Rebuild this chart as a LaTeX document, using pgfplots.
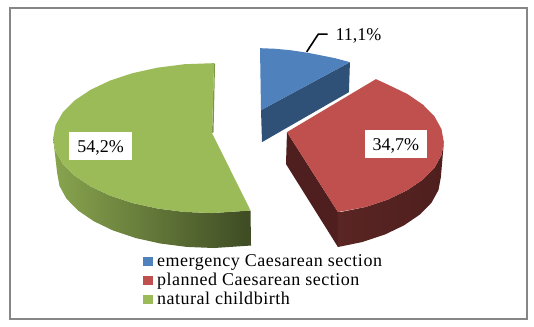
\documentclass[border=0pt]{standalone}
\usepackage{fontspec}
\setmainfont{Liberation Serif}
\newfontfamily\legfont[LetterSpace=2.9]{Liberation Serif}
\usepackage{pgfplots}
\pgfplotsset{compat=1.18}
\definecolor{frameg}{HTML}{868686}
\definecolor{bluetop}{HTML}{4F81BD}
\definecolor{blueside}{HTML}{2F5178}
\definecolor{redtop}{HTML}{C0504D}
\definecolor{redside}{HTML}{4E1F1E}
\definecolor{redsidel}{HTML}{5A2523}
\definecolor{greentop}{HTML}{9BBB59}
\tikzset{lab/.style={inner sep=0pt, text height=12bp, text depth=0pt, font=\fontsize{18bp}{20bp}\selectfont}}
\begin{document}
\begin{tikzpicture}
\begin{axis}[
  at={(0,0)}, anchor=south west,
  scale only axis, width=534bp, height=326bp,
  xmin=0, xmax=534, ymin=0, ymax=326, y dir=reverse,
  hide axis, clip=false,
  every axis plot/.append style={forget plot, no markers},
  legend image code/.code={\fill[draw=none,#1] (0bp,0.7bp) rectangle (10bp,10bp);},
  legend cell align=left,
  legend style={at={(axis cs:143,253.7)}, anchor=north west, draw=none, fill=none,
    font=\fontsize{18bp}{18bp}\selectfont\legfont, inner sep=0pt, outer sep=0pt,
    row sep=1bp, column sep=4bp,
    nodes={inner sep=0pt, outer sep=0pt, anchor=base west, text height=13bp, text depth=5bp}},
]
% page background and frame
\addplot[draw=white, fill=white] coordinates {(0,0)(534,0)(534,326)(0,326)} --cycle;
\addplot[draw=frameg, line width=2bp] coordinates {(10,8)(527,8)(527,319)(10,319)} --cycle;

% green side
\addplot[draw=none, left color=greentop!88!black, middle color=greentop!72!black, right color=greentop!40!black] coordinates {
(53,138)(55.4,151)(62.6,163.7)(74.3,175.5)(90.2,186.2)(109.8,195.5)(132.5,203)(157.6,208.5)(184.3,211.9)(212,213)(250.5,210.5)
(251,245.5)(214,248)(186.7,246.9)(160.3,243.5)(135.5,238)(113,230.5)(93.7,221.2)(78,210.5)(66.4,198.7)(59.4,186)(57,173)} --cycle;
% green sliver
\addplot[draw=none, fill=greentop!80!black] coordinates {(214,63)(215,64)(213.5,132)(212,133)} --cycle;
% green top
\addplot[draw=none, fill=greentop] coordinates {
(214,63)(184.3,64.1)(157.6,67.5)(132.5,73)(109.8,80.5)(90.2,89.8)(74.3,100.5)(62.6,112.3)(55.4,125)(53,138)
(55.4,151)(62.6,163.7)(74.3,175.5)(90.2,186.2)(109.8,195.5)(132.5,203)(157.6,208.5)(184.3,211.9)(212,213)(250.5,210.5)(212,133)} --cycle;

% red side
\addplot[draw=none, fill=redside] coordinates {(287,132)(338,212)(338,247)(286,164)} --cycle;
\addplot[draw=none, left color=redsidel, middle color=redside, right color=redside] coordinates {
(444,142)(441.6,155)(434.6,167.7)(423,179.5)(407.3,190.2)(388,199.5)(365.5,207)(340.7,212)(338,212)
(338,247)(362.5,242)(385,234.5)(404.3,225.2)(420,214.5)(431.6,202.7)(438.6,190)(441,177)} --cycle;
% red top
\addplot[draw=none, fill=redtop] coordinates {
(376,79)(388,84.5)(407.3,93.8)(423,104.5)(434.6,116.3)(441.6,129)(444,142)(441.6,155)(434.6,167.7)(423,179.5)(407.3,190.2)(388,199.5)(365.5,207)(338,212)(287,132)} --cycle;

% blue side
\addplot[draw=none, fill=blueside] coordinates {(350,62)(349,92)(262,142)(261,110)} --cycle;
% blue top
\addplot[draw=none, fill=bluetop] coordinates {
(260,48)(275,48.6)(290,50)(307,52.5)(320,55)(335,58)(350,62)(261,110)} --cycle;
% leader
\addplot[draw=black, line width=1.6bp] coordinates {(306.7,51.7)(318.3,34)(327.7,34)};

% legend
\addlegendimage{fill=bluetop}
\addlegendentry{emergency Caesarean section}
\addlegendimage{fill=redtop}
\addlegendentry{planned Caesarean section}
\addlegendimage{fill=greentop}
\addlegendentry{natural childbirth}

% labels
\node[lab, fill=white, minimum width=63bp, minimum height=28bp] at (axis cs:100.5,146) {54,2\%};
\node[lab, fill=white, minimum width=62bp, minimum height=28bp] at (axis cs:396,144) {34,7\%};
\node[lab] at (axis cs:358.5,34) {11,1\%};
\end{axis}
\end{tikzpicture}
\end{document}
